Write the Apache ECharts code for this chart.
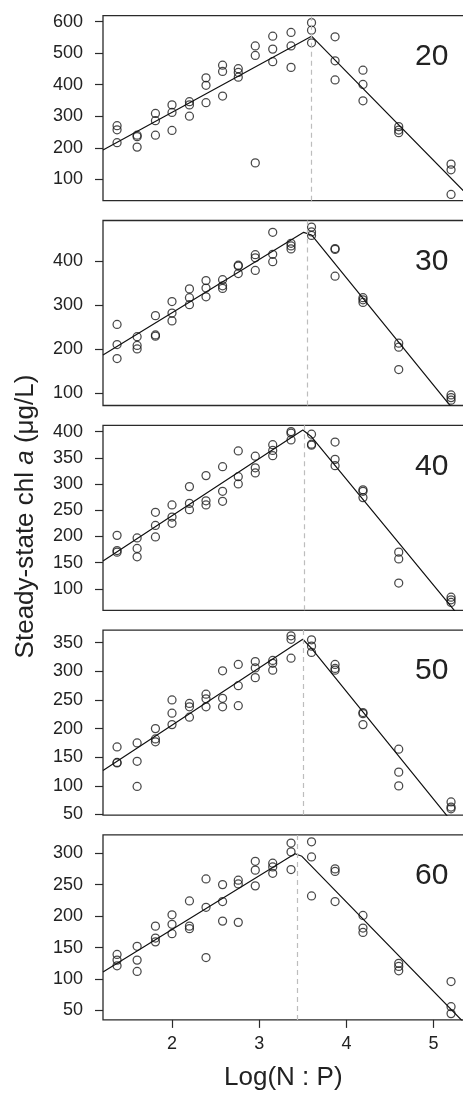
<!DOCTYPE html>
<html>
<head>
<meta charset="utf-8">
<script src="https://cdn.jsdelivr.net/npm/echarts@6/dist/echarts.min.js"></script>
<style>
html,body{margin:0;padding:0;background:#fff;}
#chart{width:463px;height:1093px;}
</style>
</head>
<body>
<div id="chart"></div>
<script>
// Log(N:P) treatment levels (x positions of the replicate columns)
const logNP = [1.37, 1.60, 1.81, 2.00, 2.20, 2.39, 2.58, 2.76, 2.955, 3.155, 3.365, 3.60, 3.87, 4.19, 4.60, 5.20];

// Steady-state chl a (µg/L), three replicates per N:P level, one array per panel
const chl20 = [[270,257,216],[240,235,202],[309,286,240],[336,312,255],[346,336,300],[422,398,343],[462,442,364],[451,439,424],[523,493,152],[554,513,473],[566,523,455],[597,573,533],[552,476,415],[446,401,349],[267,256,248],[148,130,52]];
const chl30 = [[256,210,178],[228,208,200],[276,232,229],[308,282,264],[337,317,301],[356,339,319],[358,344,338],[391,389,372],[415,408,379],[466,416,399],[441,435,428],[478,467,459],[429,427,366],[317,312,306],[213,204,153],[95,89,83]];
const chl40 = [[202,173,170],[197,177,161],[246,221,199],[260,237,225],[295,263,251],[316,268,260],[333,286,267],[363,314,300],[353,331,321],[375,364,354],[400,397,384],[395,376,374],[380,347,335],[289,286,274],[170,157,111],[84,79,74]];
const chl50 = [[168,141,140],[175,143,99],[200,182,177],[250,227,207],[244,238,220],[260,252,238],[301,253,238],[312,275,240],[317,306,289],[319,314,302],[362,356,323],[355,344,333],[312,305,302],[228,226,207],[164,124,100],[72,63,60]];
const chl60 = [[139,130,121],[152,130,112],[184,165,159],[202,187,172],[224,184,180],[259,214,134],[250,223,192],[257,251,190],[287,273,248],[284,278,268],[316,302,274],[318,294,232],[275,271,223],[201,181,174],[125,120,113],[96,56,45]];

// Segmented-regression fit lines (vertices) and breakpoints
const fitX20 = [1.2087, 3.60, 5.36];          const fitY20 = [193, 554, 58];
const fitX30 = [1.2087, 3.51, 3.60, 5.36];    const fitY30 = [186, 466, 460, 29];
const fitX40 = [1.2087, 3.50, 3.60, 5.36];    const fitY40 = [153, 403, 390, 34];
const fitX50 = [1.2087, 3.50, 3.60, 5.36];    const fitY50 = [127, 356, 340, 9];
const fitX60 = [1.2087, 3.41, 3.49, 5.36];    const fitY60 = [111, 299, 295, 29];
const breaks = [3.60, 3.55, 3.525, 3.50, 3.44];

// Panel labels and tick labels
const panelLabels = ['20', '30', '40', '50', '60'];
const xTicks = [2, 3, 4, 5];
const yTicks20 = [100, 200, 300, 400, 500, 600];
const yTicks30 = [100, 200, 300, 400];
const yTicks40 = [100, 150, 200, 250, 300, 350, 400];
const yTicks50 = [50, 100, 150, 200, 250, 300, 350];
const yTicks60 = [50, 100, 150, 200, 250, 300];
const yRanges = [[32, 619], [71, 493], [59, 412], [49, 372], [35, 329]];

const panels = [
  {pts: chl20, fx: fitX20, fy: fitY20, ticks: yTicks20},
  {pts: chl30, fx: fitX30, fy: fitY30, ticks: yTicks30},
  {pts: chl40, fx: fitX40, fy: fitY40, ticks: yTicks40},
  {pts: chl50, fx: fitX50, fy: fitY50, ticks: yTicks50},
  {pts: chl60, fx: fitX60, fy: fitY60, ticks: yTicks60}
];

const FONT = "'Liberation Sans', Arial, Helvetica, sans-serif";
const tops = [15.7, 220.5, 425.3, 630.1, 834.9];
const H = 185, LEFT = 103, W = 362;
const XMIN = 1.2087, XMAX = 5.36;

const grids = [], xAxes = [], yAxes = [], series = [], graphics = [];
panels.forEach((p, i) => {
  grids.push({left: LEFT, top: tops[i], width: W, height: H, show: true,
    outerBoundsMode: 'none', containLabel: false,
    borderColor: '#2a2a2a', borderWidth: 1.3, backgroundColor: 'rgba(0,0,0,0)'});
  xAxes.push({gridIndex: i, type: 'value', min: XMIN, max: XMAX,
    axisLine: {show: false}, splitLine: {show: false},
    axisTick: {show: i === 4, length: 8, customValues: xTicks, lineStyle: {color: '#2a2a2a', width: 1.2}},
    axisLabel: {show: i === 4, customValues: xTicks, margin: 15, fontSize: 18, color: '#222', fontFamily: FONT}
  });
  yAxes.push({gridIndex: i, type: 'value', min: yRanges[i][0], max: yRanges[i][1],
    axisLine: {show: false}, splitLine: {show: false},
    axisTick: {show: true, length: 8, customValues: p.ticks, lineStyle: {color: '#2a2a2a', width: 1.2}},
    axisLabel: {customValues: p.ticks, margin: 20, fontSize: 18, color: '#222', fontFamily: FONT}
  });
  const data = [];
  p.pts.forEach((reps, c) => reps.forEach(v => data.push([logNP[c], v])));
  series.push({type: 'line', xAxisIndex: i, yAxisIndex: i, data: p.fx.map((x, k) => [x, p.fy[k]]),
    showSymbol: false, symbol: 'none', clip: true, silent: true,
    lineStyle: {color: '#111', width: 1.2},
    markLine: {silent: true, symbol: ['none', 'none'], label: {show: false},
      lineStyle: {color: '#bdbdbd', type: [5, 4], width: 1.2},
      data: [{xAxis: breaks[i]}]}
  });
  series.push({type: 'scatter', xAxisIndex: i, yAxisIndex: i, data: data,
    symbol: 'circle', symbolSize: 8, silent: true,
    itemStyle: {color: 'rgba(0,0,0,0)', borderColor: '#1a1a1a', borderWidth: 1.25}
  });
  graphics.push({type: 'text', x: 431.7, y: tops[i] + 41,
    style: {text: panelLabels[i], fontSize: 30, fontFamily: FONT, fill: '#222', align: 'center', verticalAlign: 'middle'}});
});

graphics.push({type: 'text', x: 283.3, y: 1078,
  style: {text: 'Log(N : P)', fontSize: 26, fontFamily: FONT, fill: '#222', align: 'center', verticalAlign: 'middle'}});
graphics.push({type: 'text', x: 26, y: 516.5, rotation: Math.PI / 2,
  style: {text: '{r|Steady-state chl }{i|a}{r| (μg/L)}', align: 'center', verticalAlign: 'middle',
    rich: {r: {fontSize: 26, fontFamily: FONT, fill: '#222', color: '#222'},
           i: {fontSize: 26, fontFamily: FONT, fontStyle: 'italic', fill: '#222', color: '#222'}}}});

const chart = echarts.init(document.getElementById('chart'), null, {renderer: 'canvas'});
chart.setOption({
  animation: false,
  backgroundColor: '#fff',
  grid: grids, xAxis: xAxes, yAxis: yAxes, series: series, graphic: graphics
});
</script>
</body>
</html>
